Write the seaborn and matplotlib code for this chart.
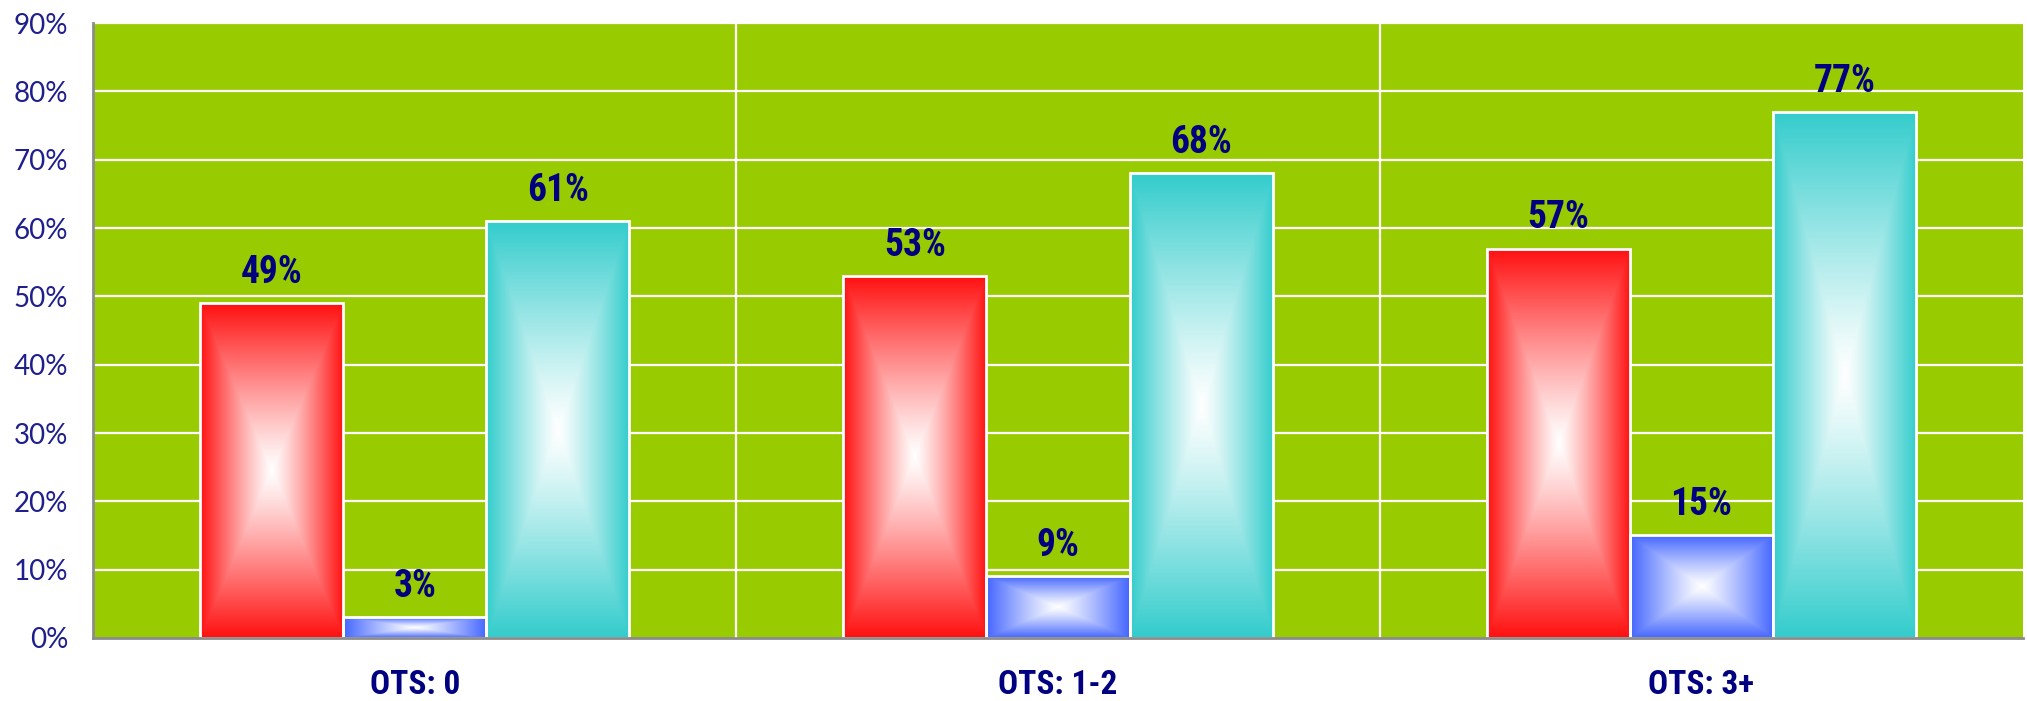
import numpy as np
import pandas as pd
import matplotlib
matplotlib.use("Agg")
import matplotlib.pyplot as plt
from matplotlib import font_manager
import seaborn as sns

categories = ["OTS: 0", "OTS: 1-2", "OTS: 3+"]
series_names = ["Series A", "Series B", "Series C"]
series_a = [49, 53, 57]
series_b = [3, 9, 15]
series_c = [61, 68, 77]
series_colors = ["#FF1010", "#4466FF", "#33CCCC"]
y_ticks = [0, 10, 20, 30, 40, 50, 60, 70, 80, 90]

rows = []
for name, vals in zip(series_names, [series_a, series_b, series_c]):
    for cat, v in zip(categories, vals):
        rows.append({"category": cat, "series": name, "value": v})
df = pd.DataFrame(rows)

sns.set_theme(style="white")

def pick(fams):
    names = {f.name for f in font_manager.fontManager.ttflist}
    for f in fams:
        if f in names:
            return f
    return "DejaVu Sans"

narrow = pick(["Roboto Condensed", "Liberation Sans Narrow", "Liberation Sans"])
tickfont = pick(["Lato", "Open Sans", "DejaVu Sans"])

fig = plt.figure(figsize=(20.27, 7.01), dpi=100)
ax = fig.add_axes([0.0459, 0.0899, 0.9521, 0.8772])
ax.set_facecolor("#99CC00")

sns.barplot(data=df, x="category", y="value", hue="series", order=categories,
            hue_order=series_names, palette=series_colors, width=0.667, gap=0,
            edgecolor="white", linewidth=2, legend=False, ax=ax, zorder=3)

ax.set_ylim(0, 90)
ax.set_xlim(-0.5, 2.5)

def gradient_img(color, n=240):
    rgb = np.array(matplotlib.colors.to_rgb(color))
    u = np.linspace(-1, 1, n)
    v = np.linspace(-1, 1, n)
    U, V = np.meshgrid(u, v)
    t = np.maximum(np.abs(U), np.abs(V))
    t = np.clip(t, 0, 1) ** 1.15
    img = (1 - t[..., None]) * np.ones(3) + t[..., None] * rgb
    return img

for i, cont in enumerate(ax.containers):
    col = series_colors[i]
    img = gradient_img(col)
    for p in cont.patches:
        x0, y0 = p.get_x(), p.get_y()
        w, h = p.get_width(), p.get_height()
        ax.imshow(img, extent=[x0, x0 + w, y0, y0 + h], aspect="auto",
                  zorder=3.5, interpolation="bilinear")
        p.set_zorder(4)
        p.set_facecolor("none")
        ax.text(x0 + w / 2, y0 + h + 1.8, f"{int(round(h))}%", ha="center", va="bottom",
                fontsize=27, fontweight="heavy", color="#000080", family=narrow, zorder=5)

ax.set_xlim(-0.5, 2.5)
ax.set_ylim(0, 90)
ax.set_yticks(y_ticks)
ax.set_yticklabels([f"{t}%" for t in y_ticks], fontsize=20, color="#1E1E8C",
                   family=tickfont, fontweight="normal")
ax.set_xticks(range(len(categories)))
ax.set_xticklabels(categories, fontsize=24, fontweight="heavy", color="#000080", family=narrow)
ax.tick_params(axis="y", length=0, pad=18)
ax.tick_params(axis="x", length=0, pad=22)
ax.set_xlabel("")
ax.set_ylabel("")

for yv in y_ticks[1:]:
    ax.axhline(yv, color="white", lw=1.6, zorder=1)
for xv in [0.5, 1.5]:
    ax.axvline(xv, color="white", lw=1.6, zorder=1)

for s in ["top", "right"]:
    ax.spines[s].set_visible(False)
for s in ["left", "bottom"]:
    ax.spines[s].set_color("#8C8C8C")
    ax.spines[s].set_linewidth(2)
    ax.spines[s].set_zorder(6)

fig.savefig("out.png", dpi=100, facecolor="white")
